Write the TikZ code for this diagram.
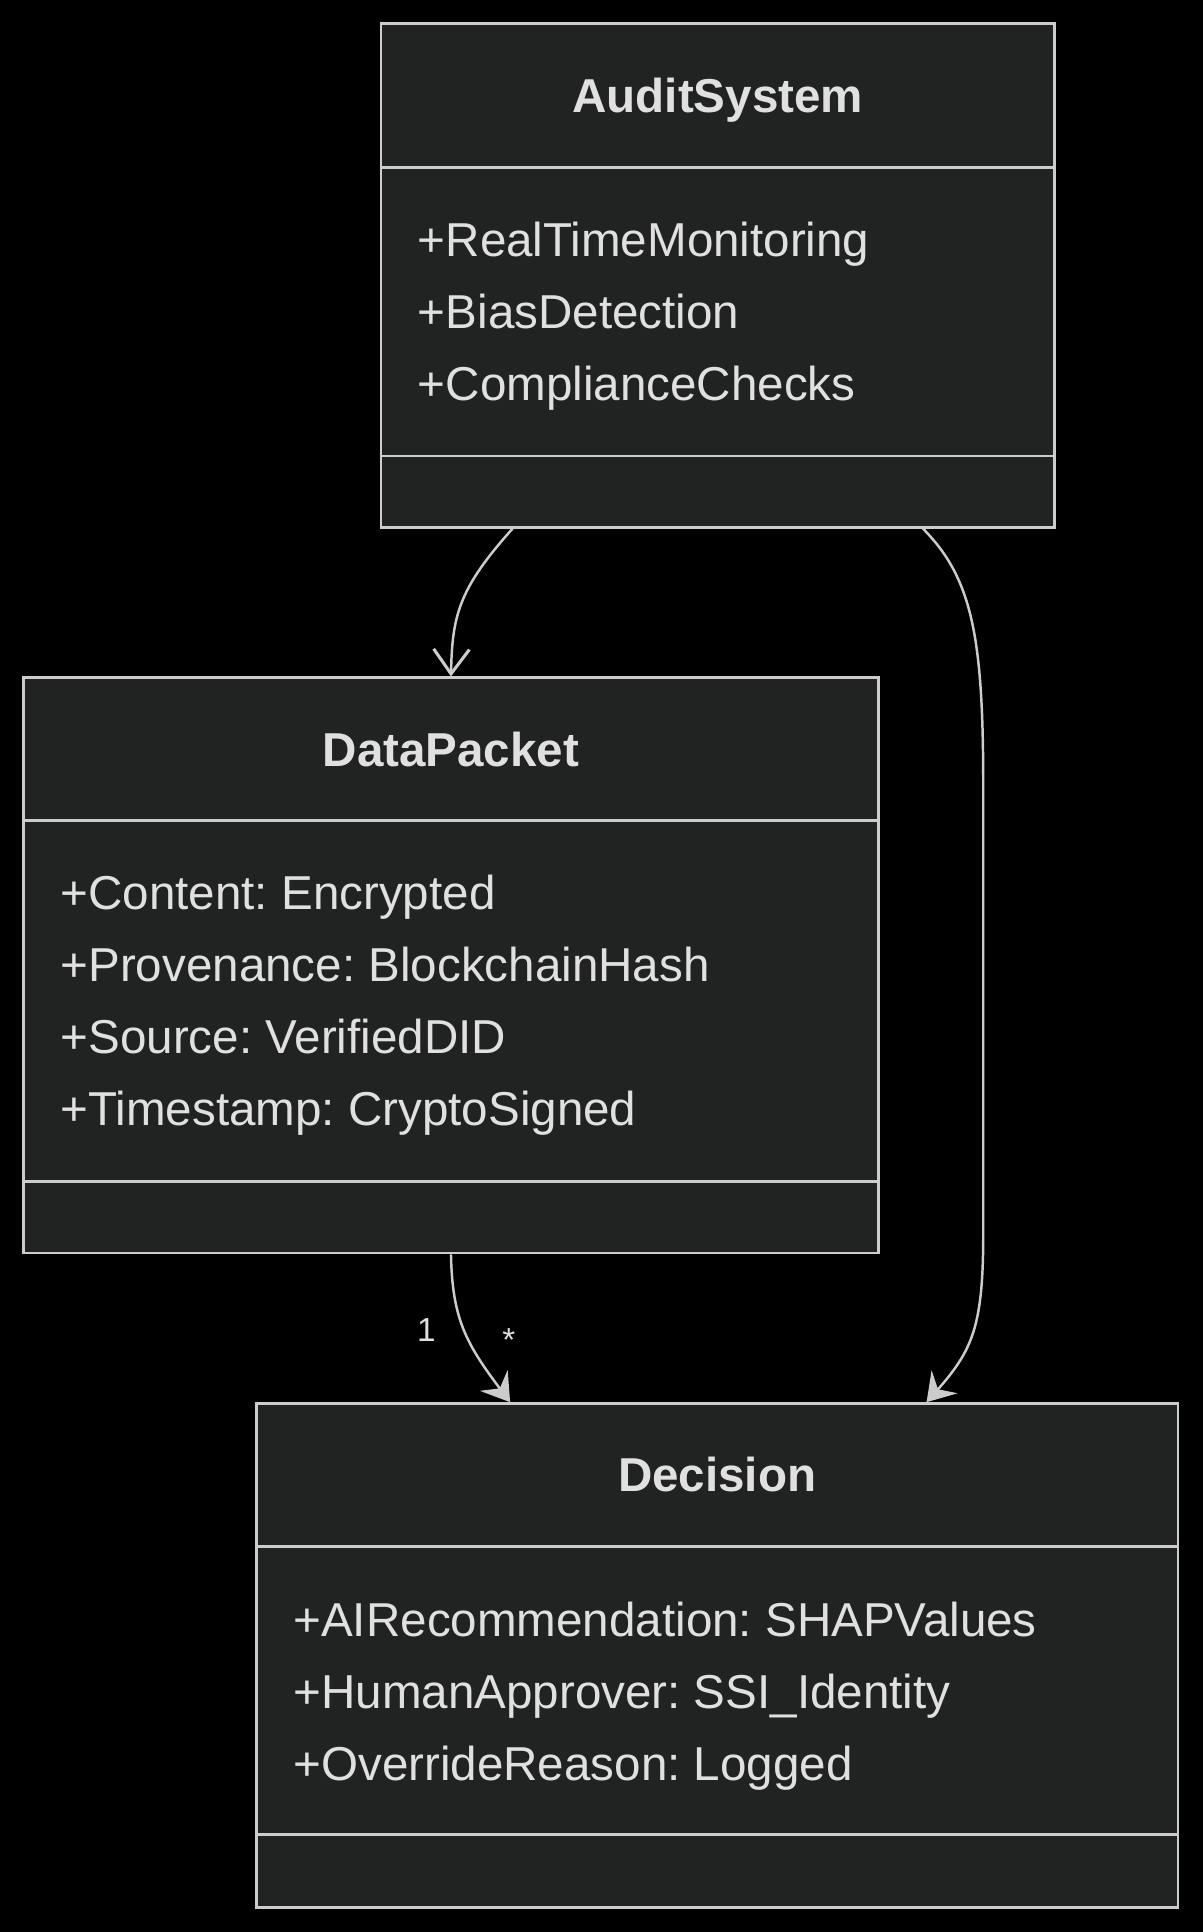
\documentclass[tikz,border=0pt]{standalone}
\usepackage{fontspec}
\setmainfont{Liberation Sans}
\usetikzlibrary{arrows.meta}
\definecolor{boxfill}{HTML}{212222}
\definecolor{boxline}{HTML}{CCCCCC}
\definecolor{inktext}{HTML}{E0E0E0}
\frenchspacing

\begin{document}
\begin{tikzpicture}[x=1pt, y=-1pt, inner sep=0pt,
  classbox/.style={draw=boxline, fill=boxfill, line width=2pt},
  divider/.style={draw=boxline, line width=2pt},
  classtitle/.style={text=inktext, font=\fontsize{38.6}{46}\selectfont\bfseries, text height=27.6pt, text depth=0pt},
  attr/.style={anchor=west, text=inktext, font=\fontsize{38.6}{46}\selectfont, text height=27.6pt, text depth=0pt},
  mult/.style={anchor=base, text=inktext, font=\fontsize{27}{32}\selectfont},
  assoc/.style={draw=boxline, line width=2pt},
  openhead/.style={-{Straight Barb[length=20pt,width=29pt,line width=2.5pt]}},
  fullhead/.style={-{Stealth[length=22pt,width=28pt,inset=8pt]}}]

\fill[black] (0,0) rectangle (976,1568);
\useasboundingbox (0,0) rectangle (976,1568);

% AuditSystem
\node[classbox, minimum width=547pt, minimum height=409pt] (audit) at (582.5,223.5) {};
\draw[divider] (audit.west |- 0,136) -- (audit.east |- 0,136);
\draw[divider] (audit.west |- 0,370) -- (audit.east |- 0,370);
\node[classtitle] (audit-t) at (582.5,77.5) {AuditSystem};
\node[attr] (audit-a1) at (339,194) {+RealTimeMonitoring};
\node[attr] (audit-a2) at (339,252.5) {+BiasDetection};
\node[attr] (audit-a3) at (339,311) {+ComplianceChecks};

% DataPacket
\node[classbox, minimum width=694pt, minimum height=467pt] (packet) at (366,783.5) {};
\draw[divider] (packet.west |- 0,666) -- (packet.east |- 0,666);
\draw[divider] (packet.west |- 0,959) -- (packet.east |- 0,959);
\node[classtitle] (packet-t) at (366,608) {DataPacket};
\node[attr] (packet-a1) at (49,724) {+Content: Encrypted};
\node[attr] (packet-a2) at (49,782.5) {+Provenance: BlockchainHash};
\node[attr] (packet-a3) at (49,841) {+Source: VerifiedDID};
\node[attr] (packet-a4) at (49,899.5) {+Timestamp: CryptoSigned};

% Decision
\node[classbox, minimum width=748pt, minimum height=409pt] (decision) at (582,1343.5) {};
\draw[divider] (decision.west |- 0,1255) -- (decision.east |- 0,1255);
\draw[divider] (decision.west |- 0,1489) -- (decision.east |- 0,1489);
\node[classtitle] (decision-t) at (582,1197) {Decision};
\node[attr] (decision-a1) at (238,1314) {+AIRecommendation: SHAPValues};
\node[attr] (decision-a2) at (238,1372.5) {+HumanApprover: SSI\_Identity};
\node[attr] (decision-a3) at (238,1431) {+OverrideReason: Logged};

% links
\draw[assoc, openhead] ([xshift=-166.5pt]audit.south) .. controls (372,478) and (367,500) .. (packet.north);
\draw[assoc, fullhead] ([xshift=166.5pt]audit.south) .. controls (790,470) and (798,520) .. (798,640)
  -- (798,1000) .. controls (798,1075) and (790,1095) .. ([xshift=170pt]decision.north);
\draw[assoc, fullhead] (packet.south) .. controls (367,1070) and (378,1090) .. ([xshift=-168pt]decision.north);
\node[mult] (m-one) at (346,1089) {1};
\node[mult] (m-many) at (413,1097) {*};

\end{tikzpicture}
\end{document}
